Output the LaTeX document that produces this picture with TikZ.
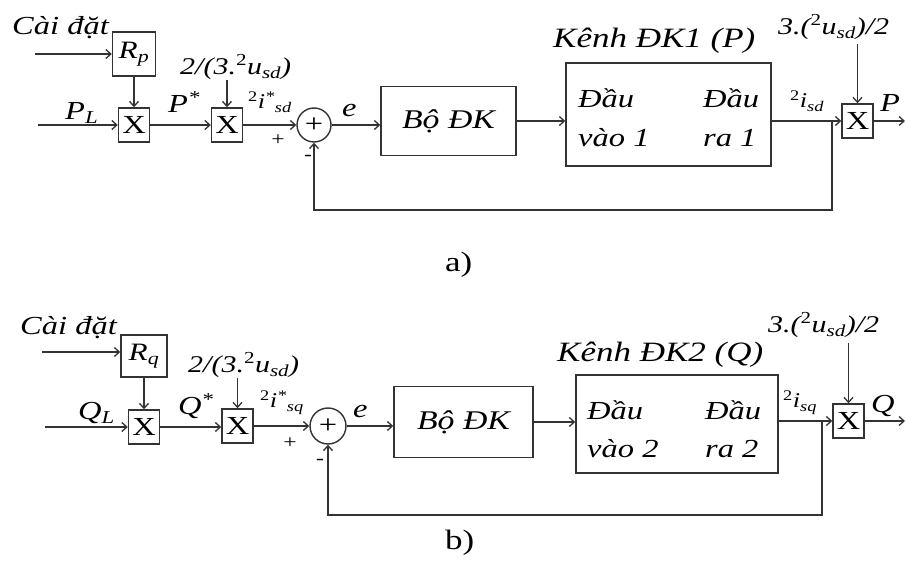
\documentclass[tikz,border=0pt]{standalone}
\usepackage{fontspec}
\setmainfont[FakeStretch=1.25]{Liberation Serif}
\usetikzlibrary{arrows.meta}
\begin{document}
\begin{tikzpicture}[x=1pt,y=-1pt,
  line/.style={draw=black!80,line width=1.3pt},
  arr/.style={line,-{Straight Barb[length=5pt,width=9pt]}},
  blk/.style={draw=black!80,line width=1.4pt,inner sep=0pt},
  mul/.style={blk,minimum width=31pt,minimum height=34pt,font=\fontsize{26}{26}\selectfont},
  lab/.style={anchor=base west,inner sep=0pt,font=\fontsize{26}{26}\selectfont\itshape},
  glab/.style={anchor=base west,inner sep=0pt,font=\fontsize{24}{24}\selectfont\itshape},
  biglab/.style={anchor=base west,inner sep=0pt,font=\fontsize{28}{28}\selectfont\itshape},
  sml/.style={anchor=base west,inner sep=0pt,font=\fontsize{21}{21}\selectfont\itshape},
  sgn/.style={inner sep=0pt,font=\fontsize{19}{19}\selectfont},
  capt/.style={anchor=base west,inner sep=0pt,font=\fontsize{28}{28}\selectfont},
]
\useasboundingbox (0,0) rectangle (906,561);

% ================= a) =================
\node[lab] (setA) at (12,35) {Cài đặt};
\node[blk,minimum width=43pt,minimum height=44pt,font=\fontsize{25}{25}\selectfont\itshape] (Rp) at (134,54) {R\textsubscript{p}};
\node[mul] (X1a) at (134,125) {X};
\node[mul] (X2a) at (227,125) {X};
\node[blk,circle,minimum size=34pt,font=\fontsize{26}{26}\selectfont] (s1) at (314,125) {+};
\node[blk,minimum width=135pt,minimum height=69pt,font=\fontsize{27}{27}\selectfont\itshape] (B1) at (448.5,121) {Bộ ĐK};
\node[blk,minimum width=205pt,minimum height=103pt] (K1) at (668.5,114.5) {};
\node[mul] (X3a) at (857.5,121) {X};

\node[lab] (PLa) at (65,120) {P\textsubscript{L}};
\node[lab] (Psa) at (168,113) {P\textsuperscript{*}};
\node[glab] (g1a) at (180,75) {2/(3.{\upshape\textsuperscript{2}}u\textsubscript{sd})};
\node[sml] (ira) at (248,109) {{\upshape\textsuperscript{2}}i\textsuperscript{*}\textsubscript{sd}};
\node[lab] (ea) at (342,117) {e};
\node[sgn] (pa) at (278,140) {+};
\node[sgn] (ma) at (308,158) {-};
\node[biglab] (KA) at (553,48) {Kênh ĐK1 (P)};
\node[lab] (d1a) at (578,108) {Đầu};
\node[lab] (v1a) at (578,147) {vào 1};
\node[lab] (d2a) at (703,108) {Đầu};
\node[lab] (r1a) at (703,147) {ra 1};
\node[sml] (isa) at (790,108) {{\upshape\textsuperscript{2}}i\textsubscript{sd}};
\node[glab] (g2a) at (778,35) {3.({\upshape\textsuperscript{2}}u\textsubscript{sd})/2};
\node[lab] (Pa) at (880,112) {P};
\node[capt] (capa) at (445,272) {a)};

\coordinate (inRa) at (35,54);
\coordinate (inPa) at (38,125);
\coordinate (g1ta) at (227,80);
\coordinate (g2ta) at (857.5,44);
\coordinate (outa) at (905,121);
\coordinate (fba) at (832,121);
\coordinate (fbba) at (832,210);

\draw[arr] (inRa) -- (Rp.west);
\draw[arr] (Rp.south) -- (X1a.north);
\draw[arr] (inPa) -- (X1a.west);
\draw[arr] (X1a.east) -- (X2a.west);
\draw[arr] (g1ta) -- (X2a.north);
\draw[arr] (X2a.east) -- (s1.west);
\draw[arr] (s1.east) -- (s1.east -| B1.west);
\draw[arr] (B1.east) -- (B1.east -| K1.west);
\draw[arr] (K1.east |- X3a.west) -- (X3a.west);
\draw[arr] (g2ta) -- (X3a.north);
\draw[arr] (X3a.east) -- (outa);
\draw[arr] (fba) -- (fbba) -| (s1.south);

% ================= b) =================
\node[lab] (setB) at (20,335) {Cài đặt};
\node[blk,minimum width=46pt,minimum height=42pt,font=\fontsize{25}{25}\selectfont\itshape] (Rq) at (144,356) {R\textsubscript{q}};
\node[mul] (X1b) at (144,427) {X};
\node[mul] (X2b) at (237.5,426) {X};
\node[blk,circle,minimum size=36pt,font=\fontsize{26}{26}\selectfont] (s2) at (328,426) {+};
\node[blk,minimum width=139pt,minimum height=71pt,font=\fontsize{27}{27}\selectfont\itshape] (B2) at (463.5,422) {Bộ ĐK};
\node[blk,minimum width=202pt,minimum height=98pt] (K2) at (677,424) {};
\node[mul] (X3b) at (848.5,421) {X};

\node[lab] (QLb) at (78,420) {Q\textsubscript{L}};
\node[lab] (Qsb) at (178,415) {Q\textsuperscript{*}};
\node[glab] (g1b) at (188,373) {2/(3.{\upshape\textsuperscript{2}}u\textsubscript{sd})};
\node[sml] (irb) at (260,408) {{\upshape\textsuperscript{2}}i\textsuperscript{*}\textsubscript{sq}};
\node[lab] (eb) at (353,418) {e};
\node[sgn] (pb) at (290,443) {+};
\node[sgn] (mb) at (320,462) {-};
\node[biglab] (KB) at (557,362) {Kênh ĐK2 (Q)};
\node[lab] (d1b) at (587,420) {Đầu};
\node[lab] (v1b) at (587,458) {vào 2};
\node[lab] (d2b) at (705,420) {Đầu};
\node[lab] (r1b) at (705,458) {ra 2};
\node[sml] (isb) at (783,408) {{\upshape\textsuperscript{2}}i\textsubscript{sq}};
\node[glab] (g2b) at (768,333) {3.({\upshape\textsuperscript{2}}u\textsubscript{sd})/2};
\node[lab] (Qb) at (871,413) {Q};
\node[capt] (capb) at (445,550) {b)};

\coordinate (inRb) at (42,352);
\coordinate (inQb) at (45,427);
\coordinate (g1tb) at (237.5,378);
\coordinate (g2tb) at (848.5,343);
\coordinate (outb) at (905,421);
\coordinate (fbb) at (822,421);
\coordinate (fbbb) at (822,515);

\draw[arr] (inRb) -- (inRb -| Rq.west);
\draw[arr] (Rq.south) -- (X1b.north);
\draw[arr] (inQb) -- (X1b.west);
\draw[arr] (X1b.east) -- (X1b.east -| X2b.west);
\draw[arr] (g1tb) -- (X2b.north);
\draw[arr] (X2b.east) -- (s2.west);
\draw[arr] (s2.east) -- (s2.east -| B2.west);
\draw[arr] (B2.east) -- (B2.east -| K2.west);
\draw[arr] (K2.east |- X3b.west) -- (X3b.west);
\draw[arr] (g2tb) -- (X3b.north);
\draw[arr] (X3b.east) -- (outb);
\draw[arr] (fbb) -- (fbbb) -| (s2.south);
\end{tikzpicture}
\end{document}
